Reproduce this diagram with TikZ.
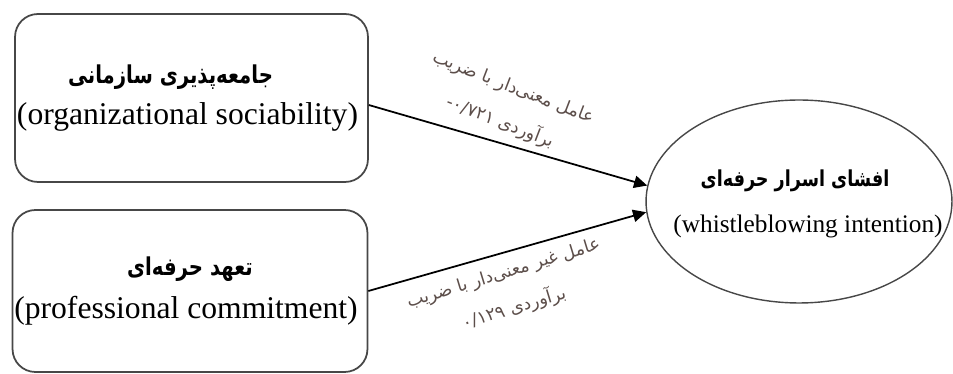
\documentclass[tikz,border=0pt]{standalone}
\usepackage{fontspec}
\setmainfont{Liberation Serif}
\newfontfamily\arabicfont[Script=Arabic]{DejaVu Sans}
\newfontfamily\persianfont[Script=Arabic, FakeStretch=0.8]{DejaVu Sans}
\TeXXeTstate=1
\usepackage{tikz}
\usetikzlibrary{shapes.geometric,arrows.meta}

\begin{document}
\begin{tikzpicture}[x=0.02cm, y=-0.02cm, thick]
    % Define colors
    \colorlet{framecol}{black!72}
    \definecolor{notecol}{RGB}{92,78,74}

    \tikzset{
      factor/.style={draw=framecol, line width=1pt, rounded corners=13pt, align=center,
        inner xsep=1pt, font=\fontsize{18}{21}\selectfont},
      outcome/.style={ellipse, draw=framecol, line width=0.8pt, inner sep=0pt},
      effect/.style={-{Triangle[length=7.5pt, width=7pt]}, line width=1pt},
      note/.style={text=notecol, align=center, font=\arabicfont\fontsize{10}{21}\selectfont}
    }

    \useasboundingbox (0,0) rectangle (953,374);

    % Predictors
    \node[factor, minimum width=7.06cm, minimum height=3.36cm] (sociability) at (191.5,98)
        {{\persianfont\bfseries\fontsize{14}{16}\selectfont\beginR جامعه‌پذیری سازمانی\endR}\hspace*{0.84cm}\\[2pt]
         (organizational sociability)\hspace*{0.16cm}};
    \node[factor, minimum width=7.08cm, minimum height=3.24cm] (commitment) at (190,291)
        {{\persianfont\bfseries\fontsize{14}{16}\selectfont\beginR تعهد حرفه‌ای\endR}\\[4pt]
         (professional commitment)\hspace*{0.16cm}};

    % Outcome
    \node[outcome, minimum width=6.12cm, minimum height=4.06cm] (whistle) at (799,201.5) {};
    \node[align=center, font=\fontsize{14.4}{18}\selectfont] (whistle-text) at (808,204)
        {{\persianfont\bfseries\fontsize{12.5}{15}\selectfont\beginR افشای اسرار حرفه‌ای\endR}\hspace*{0.52cm}\\[8pt]
         (whistleblowing intention)};

    % Paths
    \draw[effect] ([yshift=-4pt]sociability.east) -- (whistle.174.5);
    \draw[effect] (commitment.east) -- (whistle.184);

    % Coefficients
    \node[note, rotate=-21] (soc-coef) at (506.5,105.5)
        {\beginR عامل معنی‌دار با ضریب\endR\\
         \beginR برآوردی \beginL\mbox{-}\mbox{۰/۷۲۱}\endL\endR};
    \node[note, rotate=17] (com-coef) at (509,291.5)
        {\beginR عامل غیر معنی‌دار با ضریب\endR\\
         \beginR برآوردی \beginL\mbox{۰/۱۲۹}\endL\endR};
\end{tikzpicture}
\end{document}
